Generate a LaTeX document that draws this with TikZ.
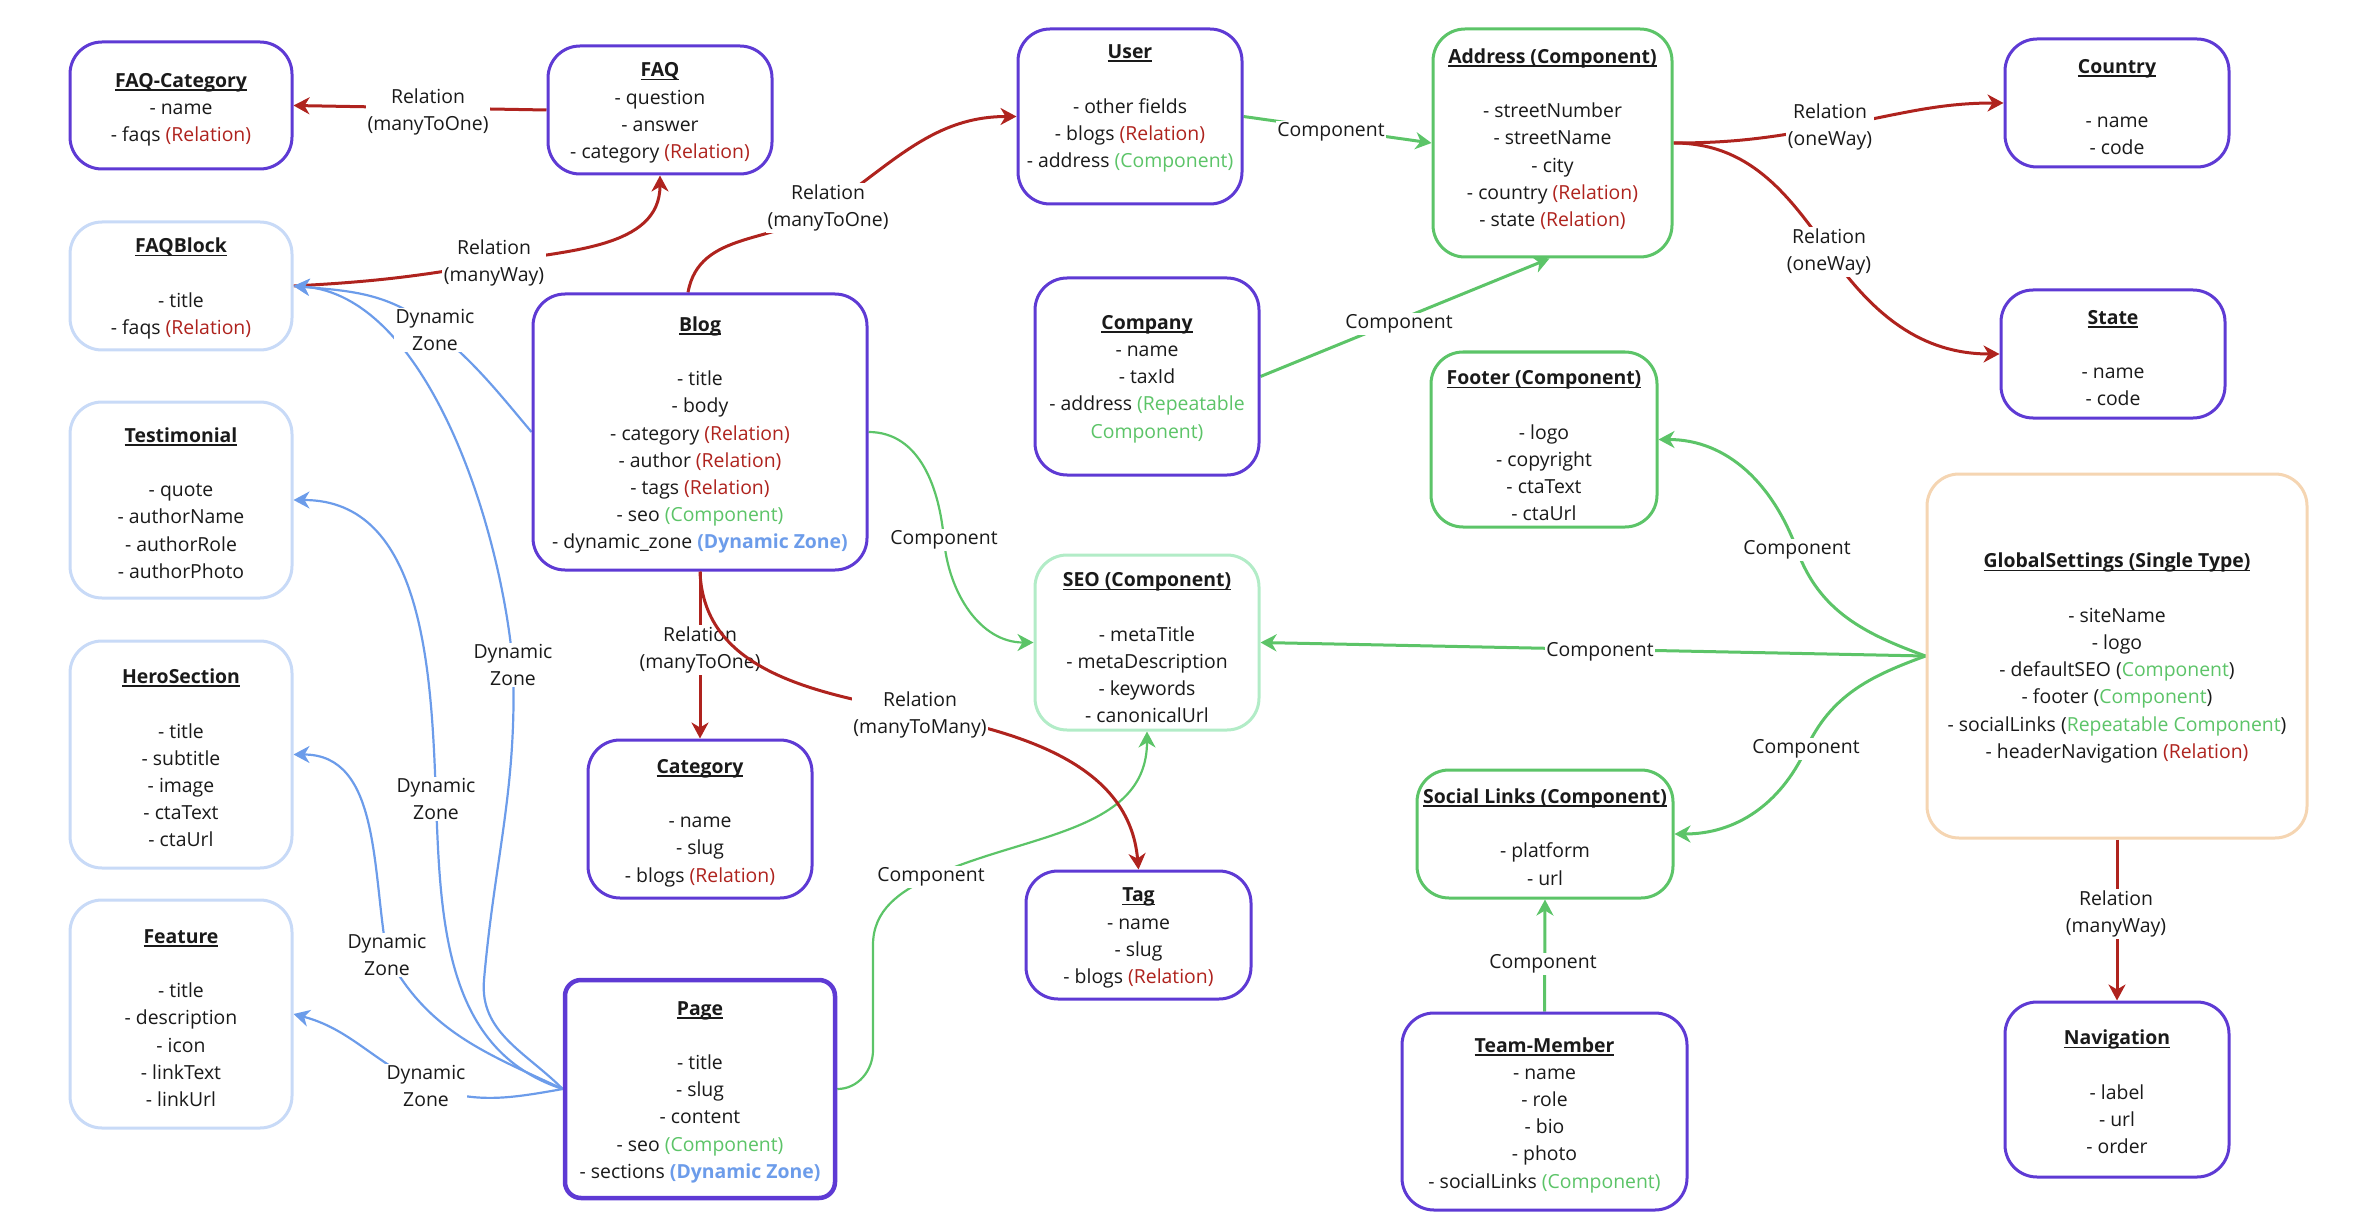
\documentclass[tikz,border=0pt]{standalone}
\usepackage{fontspec}
\setmainfont{Open Sans}
\usetikzlibrary{arrows.meta}
\definecolor{purp}{RGB}{94,58,212}
\definecolor{cgreen}{RGB}{92,196,104}
\definecolor{lblue}{RGB}{200,218,247}
\definecolor{lgreen}{RGB}{178,236,199}
\definecolor{peach}{RGB}{245,213,178}
\definecolor{relred}{RGB}{175,35,30}
\definecolor{dzblue}{RGB}{108,156,234}
\definecolor{ink}{RGB}{26,26,26}
\pgfdeclarelayer{bg}
\pgfsetlayers{bg,main}
\newcommand\ttl[1]{\setbox0\hbox{\textbf{#1}}\rlap{\rule[-3.5pt]{\wd0}{1.7pt}}\box0}
\newcommand\rl[1]{\textcolor{relred}{#1}}
\newcommand\cp[1]{\textcolor{cgreen}{#1}}
\newcommand\dz[1]{\textcolor{dzblue}{\textbf{#1}}}
\newcommand\gap{\\[27.2pt]}
\newcommand\mkent[8][entp]{%
  \node[#1,minimum width=#5pt,minimum height=#6pt] (#2) at (#3,#4) {};
  \node[txt] (#2-t) at (#3,#7+3) {#8};}
\begin{document}
\begin{tikzpicture}[x=1pt,y=-1pt,
  entp/.style={draw=purp,line width=3pt,rounded corners=32pt,fill=white,inner sep=0pt},
  entb/.style={entp,draw=lblue},
  entg/.style={entp,draw=cgreen},
  entlg/.style={entp,draw=lgreen},
  entpe/.style={entp,draw=peach},
  entpage/.style={entp,line width=4.5pt,rounded corners=16pt},
  txt/.style={align=center,font=\fontsize{19.4}{27.2}\selectfont,text=ink,inner sep=0pt},
  lbl/.style={fill=white,align=center,font=\fontsize{19.4}{27.2}\selectfont,text=ink,inner sep=1.5pt,yshift=-2pt},
  tip/.style={-{Stealth[length=16pt,width=17pt,inset=5pt]}},
  rel/.style={draw=relred,line width=3pt,tip},
  cmp/.style={draw=cgreen,line width=3pt,tip},
  cmpt/.style={draw=cgreen,line width=2.2pt,tip},
  dzs/.style={draw=dzblue,line width=2.2pt,tip}]
\useasboundingbox (0,0) rectangle (2368,1230);

% entities
\mkent{faqcat}{181}{105.5}{222}{127}{106.5}{\ttl{FAQ-Category}\\- name\\- faqs \rl{(Relation)}}
\mkent{faq}{660}{110}{224}{128}{110}{\ttl{FAQ}\\- question\\- answer\\- category \rl{(Relation)}}
\mkent[entb]{faqblock}{181}{286}{222}{128}{285.5}{\ttl{FAQBlock}\gap- title\\- faqs \rl{(Relation)}}
\mkent{user}{1130}{116.5}{224}{175}{105.5}{\ttl{User}\gap- other fields\\- blogs \rl{(Relation)}\\- address \cp{(Component)}}
\mkent[entg]{address}{1552.5}{143}{239}{228}{136}{\ttl{Address (Component)}\gap- streetNumber\\- streetName\\- city\\- country \rl{(Relation)}\\- state \rl{(Relation)}}
\mkent{country}{2117}{103}{224}{128}{104}{\ttl{Country}\gap- name\\- code}
\mkent{state}{2113}{354}{224}{128}{355}{\ttl{State}\gap- name\\- code}
\mkent{blog}{700}{432}{334}{276}{432}{\ttl{Blog}\gap- title\\- body\\- category \rl{(Relation)}\\- author \rl{(Relation)}\\- tags \rl{(Relation)}\\- seo \cp{(Component)}\\- dynamic\_zone \dz{(Dynamic Zone)}}
\mkent{company}{1147}{376.5}{224}{197}{376}{\ttl{Company}\\- name\\- taxId\\- address \cp{(Repeatable}\\\cp{Component)}}
\mkent[entg]{footer}{1544}{439.5}{226}{175}{443}{\ttl{Footer (Component)}\gap- logo\\- copyright\\- ctaText\\- ctaUrl}
\mkent[entb]{testimonial}{181}{500}{222}{196}{500}{\ttl{Testimonial}\gap- quote\\- authorName\\- authorRole\\- authorPhoto}
\mkent[entb]{hero}{181}{754.5}{222}{227}{755}{\ttl{HeroSection}\gap- title\\- subtitle\\- image\\- ctaText\\- ctaUrl}
\mkent[entb]{feature}{181}{1014}{222}{228}{1015}{\ttl{Feature}\gap- title\\- description\\- icon\\- linkText\\- linkUrl}
\mkent[entlg]{seo}{1147}{642.5}{224}{175}{645}{\ttl{SEO (Component)}\gap- metaTitle\\- metaDescription\\- keywords\\- canonicalUrl}
\mkent{category}{700}{819}{224}{158}{820}{\ttl{Category}\gap- name\\- slug\\- blogs \rl{(Relation)}}
\mkent[entpage]{page}{700}{1089}{270}{218}{1089}{\ttl{Page}\gap- title\\- slug\\- content\\- seo \cp{(Component)}\\- sections \dz{(Dynamic Zone)}}
\mkent{tag}{1138.5}{935}{225}{128}{935}{\ttl{Tag}\\- name\\- slug\\- blogs \rl{(Relation)}}
\mkent[entg]{social}{1545}{834}{256}{128}{834}{\ttl{Social Links (Component)}\gap- platform\\- url}
\mkent{team}{1544.5}{1111.5}{285}{197}{1112}{\ttl{Team-Member}\\- name\\- role\\- bio\\- photo\\- socialLinks \cp{(Component)}}
\mkent[entpe]{global}{2117}{656}{380}{364}{655}{\ttl{GlobalSettings (Single Type)}\gap- siteName\\- logo\\- defaultSEO (\cp{Component})\\- footer (\cp{Component})\\- socialLinks (\cp{Repeatable Component})\\- headerNavigation \rl{(Relation)}}
\mkent{nav}{2117}{1089.5}{224}{175}{1089}{\ttl{Navigation}\gap- label\\- url\\- order}

% labels
\node[lbl] (l1) at (428,110) {Relation\\(manyToOne)};
\node[lbl] (l2) at (494,261) {Relation\\(manyWay)};
\node[lbl] (l3) at (828,206) {Relation\\(manyToOne)};
\node[lbl] (l4) at (1331,130) {Component};
\node[lbl] (l5) at (1830,125) {Relation\\(oneWay)};
\node[lbl] (l6) at (1829,250) {Relation\\(oneWay)};
\node[lbl] (l7) at (1399,322) {Component};
\node[lbl] (l8) at (944,538) {Component};
\node[lbl] (l9) at (1600,650) {Component};
\node[lbl] (l10) at (1797,548) {Component};
\node[lbl] (l11) at (1806,747) {Component};
\node[lbl] (l12) at (1543,962) {Component};
\node[lbl] (l13) at (2116,912) {Relation\\(manyWay)};
\node[lbl] (l14) at (700,648) {Relation\\(manyToOne)};
\node[lbl] (l16) at (931,875) {Component};
\node[lbl] (d1) at (435,328) {Dynamic\\Zone};
\node[lbl] (d2) at (513,663) {Dynamic\\Zone};
\node[lbl] (d3) at (436,797) {Dynamic\\Zone};
\node[lbl] (d4) at (387,953) {Dynamic\\Zone};
\node[lbl] (d5) at (426,1084) {Dynamic\\Zone};

% connectors
\begin{pgfonlayer}{bg}
\draw[rel] (faq.west) -- (faqcat.east);
\draw[rel] (faqblock.east) to[out=3,in=190] (l2.center) to[out=10,in=-90] (faq.south);
\draw[rel] ([xshift=-12pt]blog.north) to[out=80,in=215] (l3.center) to[out=35,in=180] (user.west);
\draw[cmp] (user.east) -- (address.west);
\draw[rel] (address.east) to[out=0,in=190] (l5.center) to[out=10,in=180] (country.west);
\draw[rel] (address.east) to[out=0,in=125] (l6.center) to[out=-55,in=180] (state.west);
\draw[cmp] (company.east) -- ([xshift=-3pt]address.south);
\draw[cmpt] (blog.east) to[out=0,in=95] (l8.center) to[out=-85,in=180] (seo.west);
\draw[cmp] (global.west) -- (seo.east);
\draw[cmp] (global.west) to[out=160,in=-70] (l10.center) to[out=110,in=0] (footer.east);
\draw[cmp] (global.west) to[out=200,in=65] (l11.center) to[out=245,in=0] (social.east);
\draw[cmp] (team.north) -- (social.south);
\draw[rel] (global.south) -- (nav.north);
\draw[rel] (blog.south) -- (category.north);
\draw[cmpt] (page.east) to[out=0,in=-90] (873,1050) -- (873,945) to[out=90,in=205] (l16.center) to[out=25,in=-90] (seo.south);
\draw[dzs] (blog.west) to[out=130,in=-40] (d1.center) to[out=140,in=-5] (faqblock.east);
\draw[dzs] (page.west) to[out=135,in=-95] (484,980) to[out=85,in=-88] (d2.center) .. controls (500,520) and (425,295) .. (faqblock.east);
\draw[dzs] (page.west) to[out=162,in=-88] (d3.center) to[out=92,in=0] (testimonial.east);
\draw[dzs] (page.west) to[out=155,in=-62] (d4.center) to[out=100,in=0] (hero.east);
\draw[dzs] (page.west) to[out=190,in=-20] (d5.center) to[out=155,in=-15] (feature.east);
\end{pgfonlayer}

% many-to-many crosses the manyToOne label
\draw[rel] (blog.south) to[out=-88,in=169] (920,713) to[out=-11,in=95] (tag.north);
\node[lbl] (l15) at (920,713) {Relation\\(manyToMany)};
\end{tikzpicture}
\end{document}
